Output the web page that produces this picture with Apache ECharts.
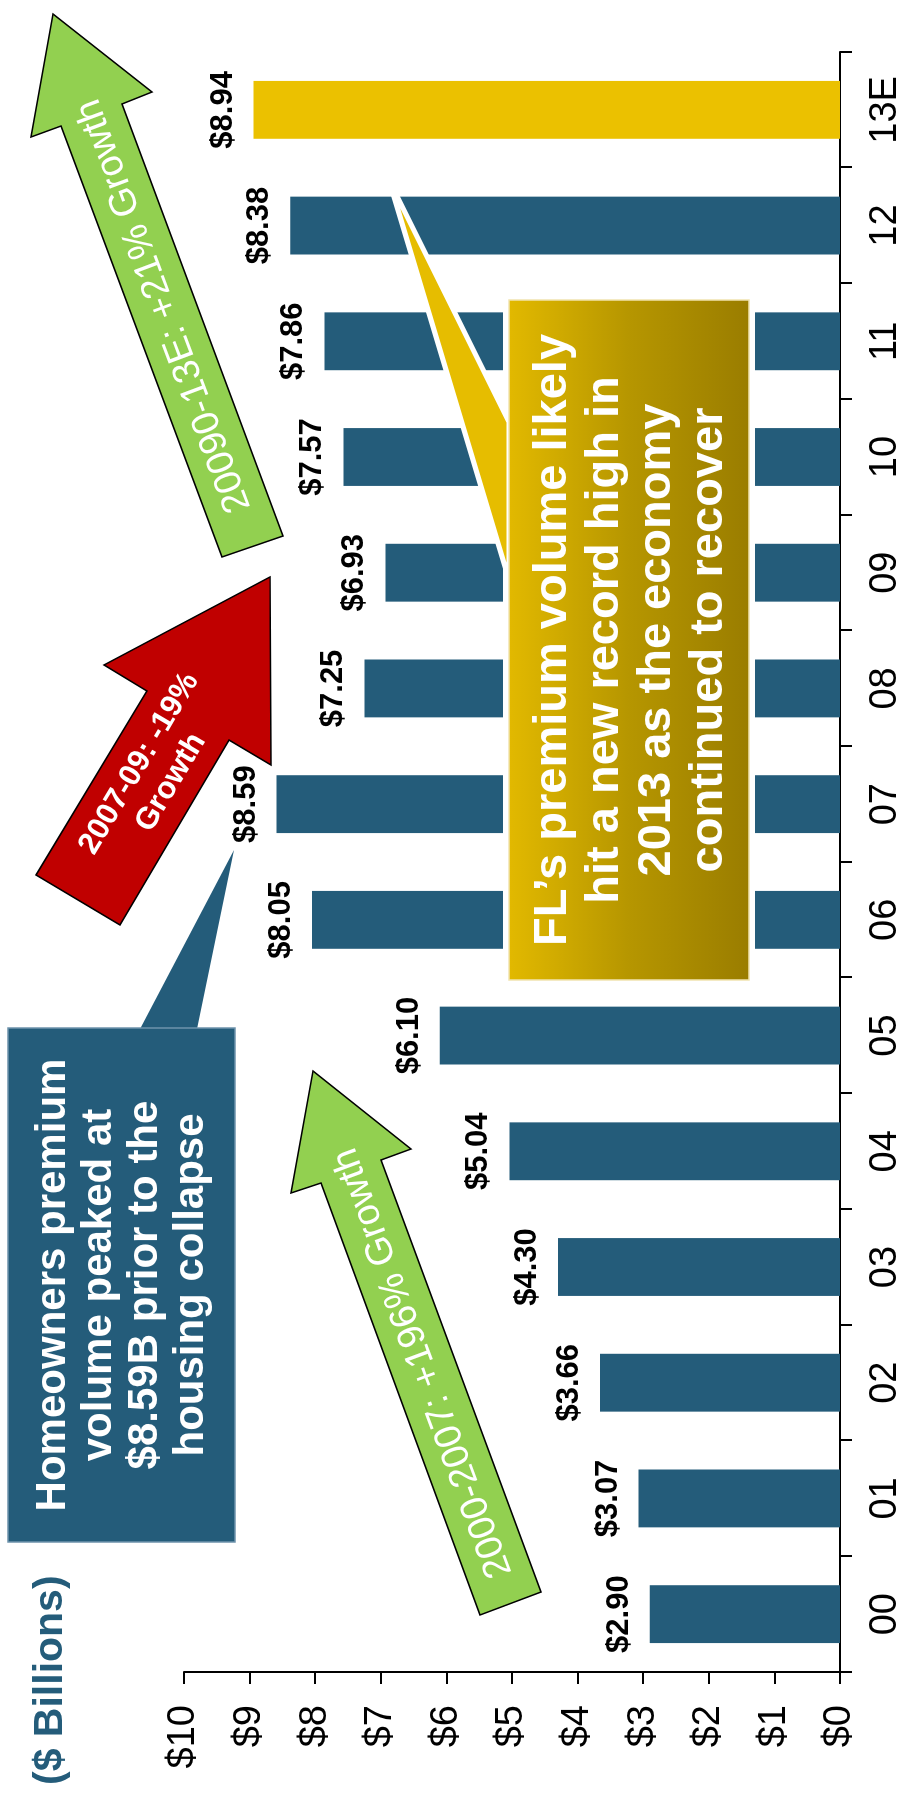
<!DOCTYPE html>
<html>
<head>
<meta charset="utf-8">
<script src="https://cdn.jsdelivr.net/npm/echarts@6/dist/echarts.min.js"></script>
<style>
  html, body { margin: 0; padding: 0; width: 905px; height: 1803px; overflow: hidden; background: #fff; }
  /* The slide is laid out in landscape and turned a quarter turn counter-clockwise */
  #chart {
    position: absolute; left: 0; top: 0;
    width: 1803px; height: 905px;
    transform-origin: 0 0;
    transform: translate(0, 1803px) rotate(-90deg);
  }
</style>
</head>
<body>
<div id="chart"></div>
<script>
// Florida homeowners premium volume, $ billions
const categories = ['00', '01', '02', '03', '04', '05', '06', '07', '08', '09', '10', '11', '12', '13E'];
const premiums = [2.90, 3.07, 3.66, 4.30, 5.04, 6.10, 8.05, 8.59, 7.25, 6.93, 7.57, 7.86, 8.38, 8.94];
const valueTicks = { min: 0, max: 10, step: 1 };
const axisTitle = '($ Billions)';

const peakNote = ['Homeowners premium', 'volume peaked at', '$8.59B prior to the', 'housing collapse'];
const recordNote = ['FL\u2019s premium volume likely', 'hit a new record high in', '2013 as the economy', 'continued to recover'];
const growthEarly = '2000-2007: +196% Growth';
const declineMid = ['2007-09: -19%', 'Growth'];
const growthLate = '20090-13E: +21% Growth';

const BLUE = '#245C7A';
const GOLD = '#EBC100';
const GREEN = '#92D050';
const RED = '#C00000';
const FONT = '"Liberation Sans", Arial, Helvetica, sans-serif';

const chart = echarts.init(document.getElementById('chart'), null, { renderer: 'canvas', devicePixelRatio: 1 });

function arrowText(x, y, deg, text, font, lineHeight) {
  return {
    type: 'text', x: x, y: y, rotation: deg * Math.PI / 180, z: 110,
    style: { text: text, font: font, fill: '#fff', align: 'center', verticalAlign: 'middle', lineHeight: lineHeight }
  };
}

const graphics = [
  // peak callout
  { type: 'polygon', z: 100, shape: { points: [[774, 140], [953, 234], [774, 197]] }, style: { fill: BLUE } },
  { type: 'rect', z: 101, shape: { x: 261, y: 8, width: 514, height: 227 }, style: { fill: BLUE, stroke: '#6E93AC', lineWidth: 1.5 } },
  { type: 'text', z: 110, x: 518, y: 122,
    style: { text: peakNote.join('\n'), font: 'bold 42px ' + FONT, fill: '#fff', align: 'center', verticalAlign: 'middle', lineHeight: 46 } },

  // 2000-2007 growth arrow
  { type: 'polygon', z: 100,
    shape: { points: [[188, 480], [620, 321], [610, 291], [732, 313], [654, 411], [643, 381], [211, 541]] },
    style: { fill: GREEN, stroke: '#000', lineWidth: 1.5 } },
  arrowText(440, 423, 20.3, growthEarly, '38px ' + FONT, 40),

  // 2007-09 decline arrow
  { type: 'polygon', z: 100,
    shape: { points: [[928, 36], [1112, 147], [1138, 104], [1226, 270], [1038, 271], [1063, 229], [878, 120]] },
    style: { fill: RED, stroke: '#000', lineWidth: 1.5 } },
  arrowText(1030, 155, -30.7, declineMid.join('\n'), 'bold 31px ' + FONT, 37),

  // 2009-13E growth arrow
  { type: 'polygon', z: 100,
    shape: { points: [[1246, 222], [1677, 61], [1666, 31], [1789, 53], [1711, 152], [1699, 122], [1267, 283]] },
    style: { fill: GREEN, stroke: '#000', lineWidth: 1.5 } },
  arrowText(1497, 164, 20.5, growthLate, '38px ' + FONT, 40),

  // record-high callout
  { type: 'rect', z: 100, shape: { x: 817, y: 503, width: 692, height: 252 }, style: { fill: '#fff' } },
  { type: 'polygon', z: 101, shape: { points: [[1381, 509], [1623, 389], [1223, 509]] },
    style: { fill: '#E6BD00', stroke: '#fff', lineWidth: 5 } },
  { type: 'rect', z: 102, shape: { x: 823, y: 509, width: 680, height: 240 },
    style: {
      fill: new echarts.graphic.LinearGradient(0, 0, 0, 1, [
        { offset: 0, color: '#E2B900' },
        { offset: 0.5, color: '#B69600' },
        { offset: 1, color: '#9A7D00' }
      ]),
      stroke: '#F1E4B0', lineWidth: 1.5
    } },
  { type: 'text', z: 110, x: 1163, y: 631,
    style: { text: recordNote.join('\n'), font: 'bold 47px ' + FONT, fill: '#fff', align: 'center', verticalAlign: 'middle', lineHeight: 52 } }
];

chart.setOption({
  animation: false,
  backgroundColor: '#fff',
  title: {
    text: axisTitle, left: 13, top: 25,
    textStyle: { color: BLUE, fontSize: 41, fontWeight: 'bold', fontFamily: FONT }
  },
  grid: { left: 131, right: 52, top: 184, bottom: 63.5, containLabel: false },
  xAxis: {
    type: 'category',
    data: categories,
    axisLine: { lineStyle: { color: '#000', width: 2 } },
    axisTick: { show: true, length: 12, inside: false, lineStyle: { color: '#000', width: 2 } },
    axisLabel: { color: '#000', fontSize: 38, fontFamily: FONT, margin: 27 }
  },
  yAxis: {
    type: 'value',
    min: valueTicks.min, max: valueTicks.max, interval: valueTicks.step,
    axisLine: { show: true, lineStyle: { color: '#000', width: 2 } },
    axisTick: { show: true, length: 12, inside: false, lineStyle: { color: '#000', width: 2 } },
    splitLine: { show: false },
    axisLabel: { color: '#000', fontSize: 38, fontFamily: FONT, margin: 33, formatter: v => '$' + v }
  },
  series: [{
    type: 'bar',
    barCategoryGap: '50%',
    data: premiums.map((v, i) => ({
      value: v,
      itemStyle: { color: /E$/.test(categories[i]) ? GOLD : BLUE }
    })),
    label: {
      show: true, position: 'top', distance: 15,
      color: '#000', fontSize: 31, fontWeight: 'bold', fontFamily: FONT,
      formatter: p => '$' + p.value.toFixed(2)
    }
  }],
  graphic: graphics
});
</script>
</body>
</html>
